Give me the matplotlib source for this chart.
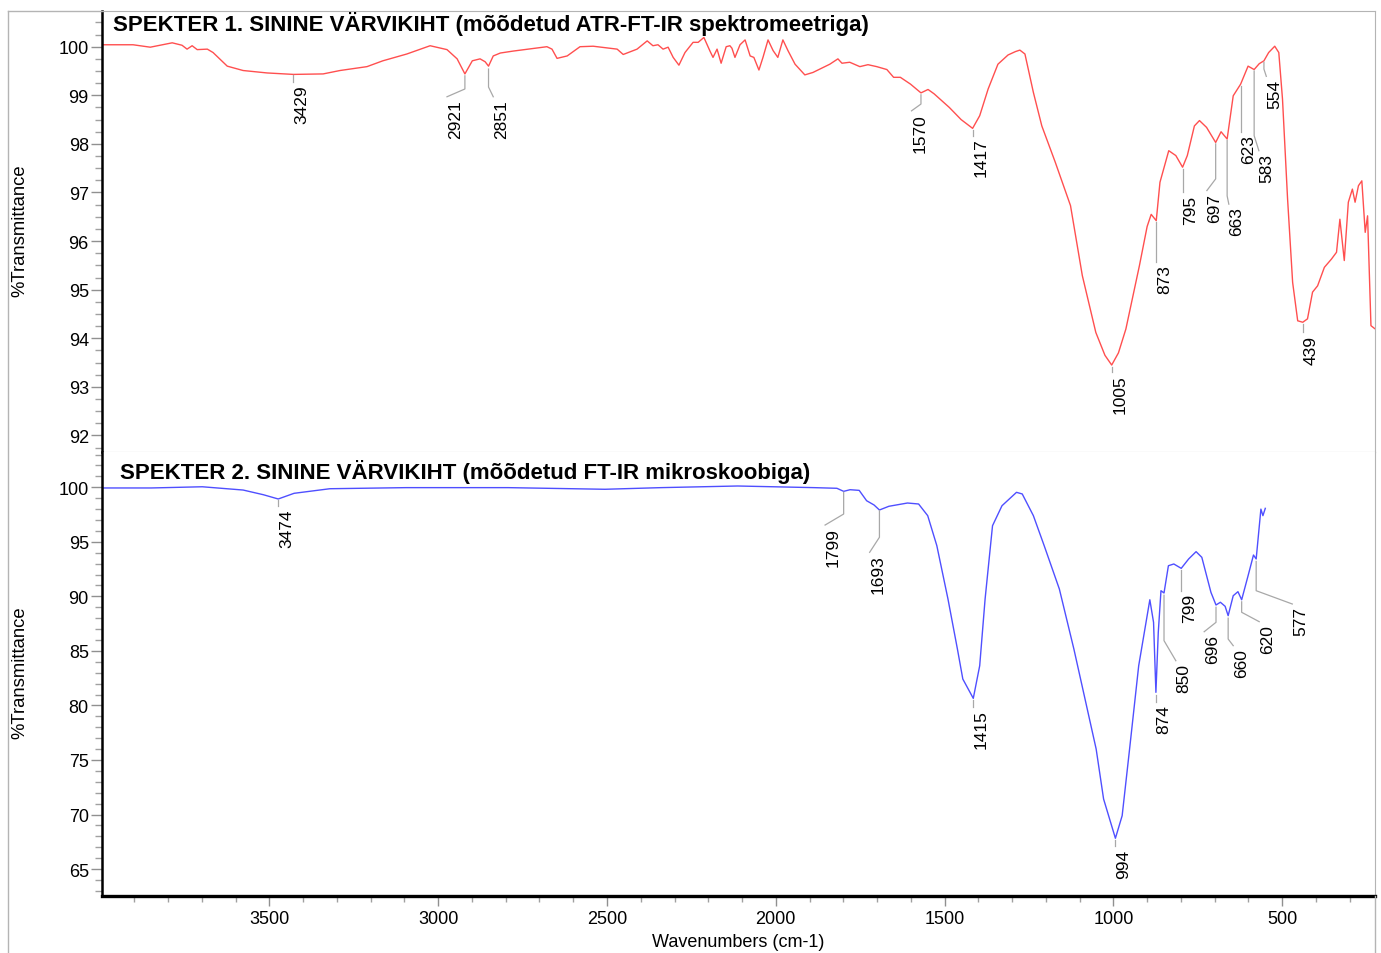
import matplotlib
matplotlib.use("Agg")
import matplotlib.pyplot as plt
from matplotlib.lines import Line2D
from matplotlib.ticker import MultipleLocator

plt.rcParams['font.family'] = ['Liberation Sans', 'DejaVu Sans']

# spectrum 1 (ATR-FT-IR)
top_wn = [3996, 3904, 3853, 3788, 3759, 3744, 3729, 3714, 3684, 3667, 3625, 3578,
          3507, 3429, 3341, 3291, 3211, 3164, 3093, 3024, 2974, 2944, 2921, 2899,
          2876, 2861, 2851, 2837, 2816, 2778, 2678, 2663, 2648, 2618, 2580, 2541,
          2470, 2452, 2411, 2381, 2364, 2349, 2334, 2319, 2304, 2287, 2269, 2245,
          2230, 2213, 2195, 2186, 2174, 2162, 2147, 2136, 2130, 2121, 2106, 2091,
          2076, 2065, 2050, 2038, 2023, 2008, 1994, 1979, 1964, 1943, 1914, 1890,
          1840, 1816, 1804, 1781, 1751, 1727, 1701, 1671, 1651, 1631, 1601, 1570,
          1549, 1531, 1486, 1451, 1417, 1396, 1371, 1342, 1312, 1290, 1277, 1262, 1237,
          1212, 1172, 1127, 1092, 1052, 1025, 1005, 985, 963, 923, 900, 888, 873, 862, 836,
          815, 795, 781, 760, 745, 724, 697, 681, 663, 645, 623, 601, 583, 568,
          554, 540, 522, 510, 499, 484, 469, 454, 439, 425, 410, 395, 375, 354,
          339, 329, 316, 304, 292, 284, 274, 264, 254, 247, 237, 226]
top_t = [100.04, 100.04, 99.99, 100.08, 100.03, 99.95, 100.02, 99.94, 99.95, 99.88, 99.60, 99.51,
         99.46, 99.43, 99.44, 99.51, 99.59, 99.71, 99.85, 100.02, 99.94, 99.75, 99.44, 99.71,
         99.75, 99.69, 99.60, 99.81, 99.87, 99.91, 100.00, 99.95, 99.76, 99.81, 100.00, 100.01,
         99.95, 99.84, 99.95, 100.12, 100.02, 100.04, 99.95, 99.99, 99.78, 99.62, 99.88, 100.09,
         100.09, 100.19, 99.91, 99.78, 99.95, 99.66, 100.00, 100.02, 99.97, 99.78, 100.04, 100.14,
         99.81, 99.78, 99.52, 99.78, 100.14, 99.92, 99.78, 100.14, 99.92, 99.64, 99.42, 99.47,
         99.64, 99.75, 99.66, 99.68, 99.59, 99.63, 99.59, 99.53, 99.37, 99.37, 99.23, 99.05,
         99.12, 99.03, 98.75, 98.50, 98.32, 98.58, 99.13, 99.64, 99.83, 99.90, 99.93, 99.85, 99.06,
         98.37, 97.62, 96.73, 95.29, 94.12, 93.65, 93.45, 93.70, 94.19, 95.49, 96.30, 96.55, 96.42, 97.21, 97.86,
         97.76, 97.52, 97.76, 98.37, 98.48, 98.34, 98.03, 98.25, 98.10, 98.99, 99.23, 99.60, 99.53, 99.65,
         99.71, 99.88, 100.01, 99.88, 98.92, 96.87, 95.15, 94.36, 94.33, 94.40, 94.95, 95.08, 95.46, 95.63,
         95.77, 96.45, 95.60, 96.80, 97.07, 96.80, 97.14, 97.24, 96.18, 96.52, 94.26, 94.20]

# spectrum 2 (FT-IR microscope)
bot_wn = [3996, 3850, 3699, 3578, 3518, 3474, 3427, 3321, 3095, 2793, 2506, 2340,
          2113, 1887, 1819, 1799, 1780, 1753, 1731, 1709, 1693, 1665, 1610, 1577,
          1550, 1523, 1490, 1462, 1446, 1415, 1396, 1380, 1358, 1330, 1287, 1270,
          1237, 1205, 1160, 1117, 1084, 1051, 1029, 994, 974, 952, 925, 892, 881,
          874, 867, 859, 850, 837, 821, 799, 777, 755, 738, 711, 696, 683, 669,
          660, 645, 631, 620, 601, 585, 577, 563, 557, 550]
bot_t = [99.94, 99.94, 100.05, 99.75, 99.32, 98.93, 99.45, 99.87, 99.97, 99.97, 99.82, 99.97,
         100.12, 99.97, 99.91, 99.63, 99.78, 99.72, 98.77, 98.38, 97.92, 98.26, 98.56, 98.47,
         97.40, 94.65, 89.76, 85.17, 82.42, 80.65, 83.64, 89.76, 96.48, 98.31, 99.54, 99.39,
         97.40, 94.65, 90.67, 85.17, 80.59, 76.00, 71.42, 67.82, 69.89, 76.00, 83.64, 89.69, 87.62,
         81.20, 86.70, 90.52, 90.31, 92.81, 92.97, 92.57, 93.43, 94.10, 93.58, 90.37, 89.21, 89.46, 89.09,
         88.23, 90.06, 90.43, 89.69, 91.89, 93.79, 93.43, 98.00, 97.40, 98.07]

top_title = "SPEKTER 1. SININE VÄRVIKIHT (mõõdetud ATR-FT-IR spektromeetriga)"
bot_title = "SPEKTER 2. SININE VÄRVIKIHT (mõõdetud FT-IR mikroskoobiga)"

# peak labels: text, peak wn, leader start T, knee T, end wn, end T
top_peaks = [("3429", 3429, 99.41, 99.27, 3429, 99.27),
             ("2921", 2921, 99.40, 99.13, 2974, 98.97),
             ("2851", 2851, 99.54, 99.17, 2837, 98.97),
             ("1570", 1570, 99.01, 98.82, 1598, 98.68),
             ("1417", 1417, 98.28, 98.17, 1417, 98.17),
             ("1005", 1005, 93.40, 93.30, 1005, 93.30),
             ("873", 873, 96.40, 95.56, 873, 95.56),
             ("795", 795, 97.49, 97.00, 795, 97.00),
             ("697", 697, 98.00, 97.28, 723, 97.04),
             ("663", 663, 98.07, 96.93, 658, 96.76),
             ("623", 623, 99.20, 98.24, 623, 98.24),
             ("583", 583, 99.50, 98.17, 569, 97.86),
             ("554", 554, 99.68, 99.54, 547, 99.39),
             ("439", 439, 94.30, 94.12, 439, 94.12)]
bot_peaks = [("3474", 3474, 98.85, 98.28, 3474, 98.28),
             ("1799", 1799, 99.55, 97.55, 1854, 96.54),
             ("1693", 1693, 97.85, 95.42, 1722, 94.04),
             ("1415", 1415, 80.50, 79.83, 1415, 79.83),
             ("994", 994, 67.70, 67.08, 994, 67.08),
             ("874", 874, 81.00, 80.29, 874, 80.29),
             ("850", 850, 90.10, 85.94, 815, 84.10),
             ("799", 799, 92.40, 90.52, 799, 90.52),
             ("696", 696, 89.00, 87.62, 731, 86.76),
             ("660", 660, 88.00, 86.09, 645, 85.48),
             ("620", 620, 89.50, 88.54, 568, 87.68),
             ("577", 577, 93.20, 90.52, 470, 89.30)]

W, H = 1381, 954
fig = plt.figure(figsize=(W / 100, H / 100), dpi=100)


def fx(px):
    return px / W


def fy(py):
    return 1 - py / H


gray = '#b4b4b4'
ax1 = fig.add_axes([fx(102), fy(453.3), fx(1375) - fx(102), fy(11.5) - fy(453.3)])
ax2 = fig.add_axes([fx(102), fy(897.3), fx(1375) - fx(102), fy(453.3) - fy(897.3)], sharex=ax1)

ax1.plot(top_wn, top_t, color='#ff4f4f', lw=1.0)
ax2.plot(bot_wn, bot_t, color='#4f4fff', lw=1.0)

ax2.set_xlim(3996, 225)
ax1.set_ylim(91.654, 100.745)
ax2.set_ylim(62.5, 103.21)

for ax, peaks in ((ax1, top_peaks), (ax2, bot_peaks)):
    for lbl, wn, ts, tk, we, te in peaks:
        ax.plot([wn, wn, we], [ts, tk, te], color='#a8a8a8', lw=0.9)
        ax.annotate(lbl, xy=(we, te), xytext=(0.5, -1.5), textcoords='offset points',
                    rotation=90, ha='left', va='top', fontsize=12.5)
    ax.spines['left'].set_linewidth(1.8)
    ax.spines['left'].set_color('black')
    ax.spines['right'].set_color(gray)
    ax.tick_params(axis='y', which='major', length=8, width=1, color='#909090',
                   labelsize=13, pad=1.5)
    ax.tick_params(axis='y', which='minor', length=5, width=1, color='#a0a0a0')

ax1.spines['top'].set_color(gray)
ax1.spines['bottom'].set_color(gray)
ax2.spines['top'].set_visible(False)
ax2.spines['bottom'].set_linewidth(2.4)

ax1.yaxis.set_major_locator(MultipleLocator(1))
ax1.yaxis.set_minor_locator(MultipleLocator(0.25))
ax2.yaxis.set_major_locator(MultipleLocator(5))
ax2.yaxis.set_minor_locator(MultipleLocator(1))
ax2.xaxis.set_major_locator(MultipleLocator(500))
ax2.xaxis.set_minor_locator(MultipleLocator(100))
ax1.tick_params(axis='x', which='both', bottom=False, labelbottom=False)
ax2.tick_params(axis='x', which='major', length=7, width=1, color='#909090',
                labelsize=13, pad=3)
ax2.tick_params(axis='x', which='minor', length=4, width=1, color='#a0a0a0')

fig.text(fx(113), fy(24), top_title, fontsize=16, fontweight='bold', va='center', ha='left')
fig.text(fx(120), fy(472), bot_title, fontsize=16, fontweight='bold', va='center', ha='left')

fig.text(fx(20), fy(231), "%Transmittance", rotation=90, fontsize=13.3, ha='center', va='center')
fig.text(fx(20), fy(673), "%Transmittance", rotation=90, fontsize=13.3, ha='center', va='center')
fig.text(fx(738), fy(943), "Wavenumbers (cm-1)", fontsize=13, ha='center', va='center')

# outer frame lines
fig.add_artist(Line2D([fx(8), fx(102)], [fy(11.5), fy(11.5)], color=gray, lw=1))
fig.add_artist(Line2D([fx(8), fx(8)], [fy(11.5), fy(954)], color=gray, lw=1))
fig.add_artist(Line2D([fx(1375), fx(1375)], [fy(897), fy(954)], color=gray, lw=1))

fig.savefig("out.png", dpi=100)
